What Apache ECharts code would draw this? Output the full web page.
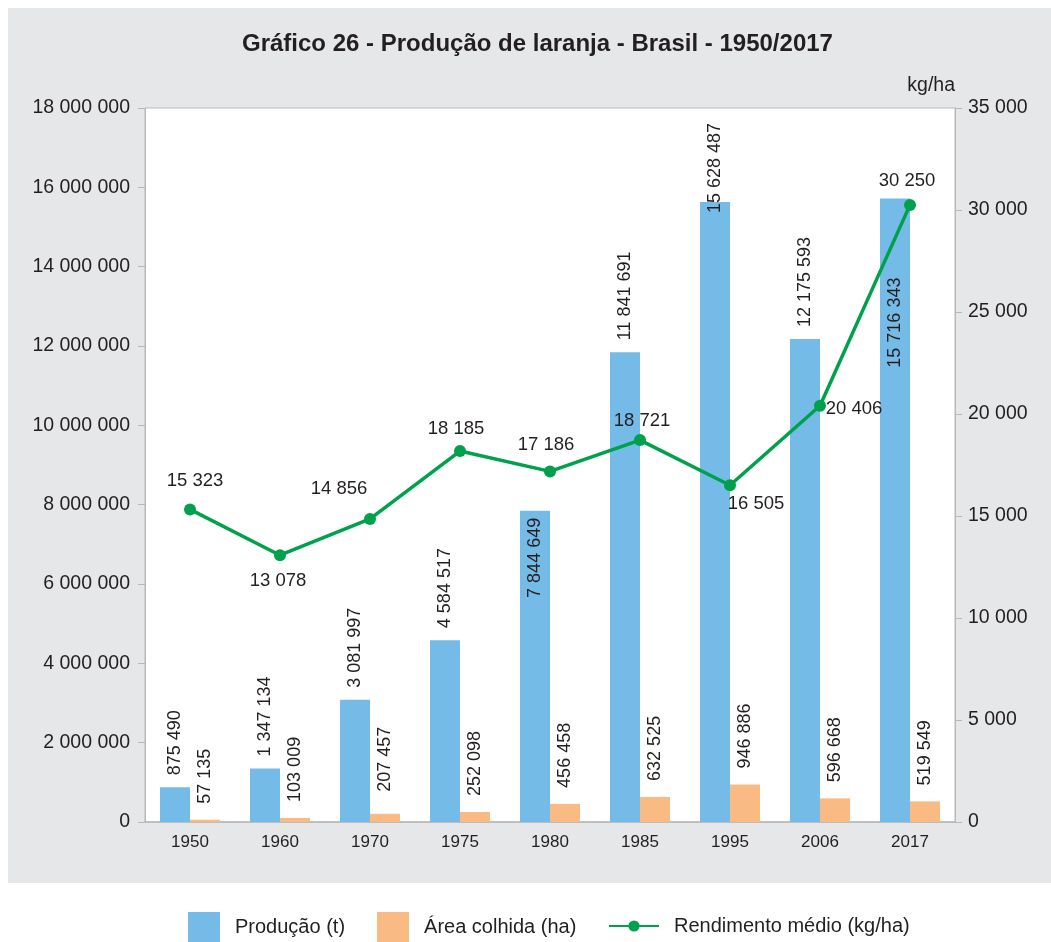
<!DOCTYPE html>
<html>
<head>
<meta charset="utf-8">
<title>Produção de laranja</title>
<script src="https://cdn.jsdelivr.net/npm/echarts@6/dist/echarts.min.js"></script>
<style>
html, body { margin: 0; padding: 0; background: #fff; }
#grafico { width: 1051px; height: 942px; }
</style>
</head>
<body>
<div id="grafico"></div>
<script>
// dados do gráfico
var anos = ['1950', '1960', '1970', '1975', '1980', '1985', '1995', '2006', '2017'];
var producao = [875490, 1347134, 3081997, 4584517, 7844649, 11841691, 15628487, 12175593, 15716343];
var area = [57135, 103009, 207457, 252098, 456458, 632525, 946886, 596668, 519549];
var rendimento = [15323, 13078, 14856, 18185, 17186, 18721, 16505, 20406, 30250];

// deslocamento dos rótulos da linha (centro do rótulo em relação ao ponto)
var offsetRend = [[5, -29], [-2, 26], [-31, -30], [-4, -22], [-4, -26], [2, -19], [26, 19], [34, 3], [-3, -24]];

var corTexto = '#231f20';
var fonte = "'Liberation Sans', Arial, sans-serif";

// separador de milhar com espaço
function fmt(v) {
	return String(v).replace(/\B(?=(\d{3})+(?!\d))/g, ' ');
}

var dadosProducao = producao.map(function(v, i) {
	var item = { value: v };
	if (i == 4) {
		item.label = { position: 'insideTop', align: 'right', distance: 7 };
	} else if (i == 6) {
		item.label = { position: ['50%', 11], align: 'left' };
	} else if (i == 8) {
		item.label = { position: ['50%', 79], align: 'right' };
	}
	return item;
});

var dadosArea = area.map(function(v, i) {
	var item = { value: v };
	if (i == 2) {
		item.label = { distance: 22 };
	}
	return item;
});

var dadosRend = rendimento.map(function(v, i) {
	return { value: v, label: { offset: offsetRend[i] } };
});

var chart = echarts.init(document.getElementById('grafico'));

var option = {
	animation: false,
	textStyle: { fontFamily: fonte, color: corTexto },
	graphic: [{
		type: 'rect',
		z: -10,
		silent: true,
		shape: { x: 8, y: 8, width: 1043, height: 875 },
		style: { fill: '#e6e7e9' }
	}],
	title: {
		text: 'Gráfico 26 - Produção de laranja - Brasil - 1950/2017',
		left: 242,
		top: 32,
		padding: 0,
		textStyle: { fontFamily: fonte, fontSize: 24, fontWeight: 'bold', color: corTexto }
	},
	legend: [{
		data: ['Produção (t)', 'Área colhida (ha)'],
		left: 188,
		top: 912,
		padding: 0,
		icon: 'rect',
		itemWidth: 32,
		itemHeight: 30,
		itemGap: 32,
		textStyle: { fontFamily: fonte, fontSize: 20, color: corTexto, padding: [0, 0, 0, 10] }
	}, {
		data: ['Rendimento médio (kg/ha)'],
		left: 608,
		top: 916,
		padding: 0,
		itemWidth: 50,
		itemHeight: 14,
		textStyle: { fontFamily: fonte, fontSize: 20, color: corTexto, padding: [0, 0, 0, 10] }
	}],
	grid: {
		left: 145,
		right: 96,
		top: 108,
		bottom: 120,
		show: true,
		backgroundColor: '#ffffff',
		borderColor: '#b8b8b8',
		borderWidth: 1
	},
	xAxis: {
		type: 'category',
		data: anos,
		axisTick: { show: false },
		axisLine: { lineStyle: { color: '#b8b8b8', width: 1.5 } },
		axisLabel: { fontFamily: fonte, fontSize: 17, color: corTexto, margin: 12 }
	},
	yAxis: [{
		type: 'value',
		min: 0,
		max: 18000000,
		interval: 2000000,
		splitLine: { show: false },
		axisLine: { show: true, lineStyle: { color: '#b8b8b8' } },
		axisTick: { show: true, length: 7, lineStyle: { color: '#b8b8b8' } },
		axisLabel: { fontFamily: fonte, fontSize: 19.5, color: corTexto, margin: 15, formatter: fmt }
	}, {
		type: 'value',
		min: 0,
		max: 35000,
		interval: 5000,
		name: 'kg/ha',
		nameLocation: 'end',
		nameGap: 12,
		nameTextStyle: { fontFamily: fonte, fontSize: 19.5, color: corTexto, align: 'right' },
		splitLine: { show: false },
		axisLine: { show: true, lineStyle: { color: '#b8b8b8' } },
		axisTick: { show: true, length: 7, lineStyle: { color: '#b8b8b8' } },
		axisLabel: { fontFamily: fonte, fontSize: 19.5, color: corTexto, margin: 13, formatter: fmt }
	}],
	series: [{
		name: 'Produção (t)',
		type: 'bar',
		yAxisIndex: 0,
		barWidth: 30,
		barGap: '0%',
		itemStyle: { color: '#74bbe7' },
		label: {
			show: true,
			position: 'top',
			distance: 12,
			rotate: 90,
			align: 'left',
			verticalAlign: 'middle',
			fontFamily: fonte,
			fontSize: 18,
			color: corTexto,
			formatter: function(p) { return fmt(p.value); }
		},
		data: dadosProducao
	}, {
		name: 'Área colhida (ha)',
		type: 'bar',
		yAxisIndex: 0,
		barWidth: 30,
		barGap: '0%',
		itemStyle: { color: '#f9bb83' },
		label: {
			show: true,
			position: 'top',
			distance: 16,
			rotate: 90,
			align: 'left',
			verticalAlign: 'middle',
			fontFamily: fonte,
			fontSize: 18,
			color: corTexto,
			formatter: function(p) { return fmt(p.value); }
		},
		data: dadosArea
	}, {
		name: 'Rendimento médio (kg/ha)',
		type: 'line',
		yAxisIndex: 1,
		symbol: 'circle',
		symbolSize: 12,
		lineStyle: { color: '#00a14b', width: 3.5 },
		itemStyle: { color: '#00a14b' },
		label: {
			show: true,
			position: 'inside',
			align: 'center',
			verticalAlign: 'middle',
			fontFamily: fonte,
			fontSize: 18.5,
			color: corTexto,
			formatter: function(p) { return fmt(p.value); }
		},
		data: dadosRend
	}]
};

chart.setOption(option);
</script>
</body>
</html>
